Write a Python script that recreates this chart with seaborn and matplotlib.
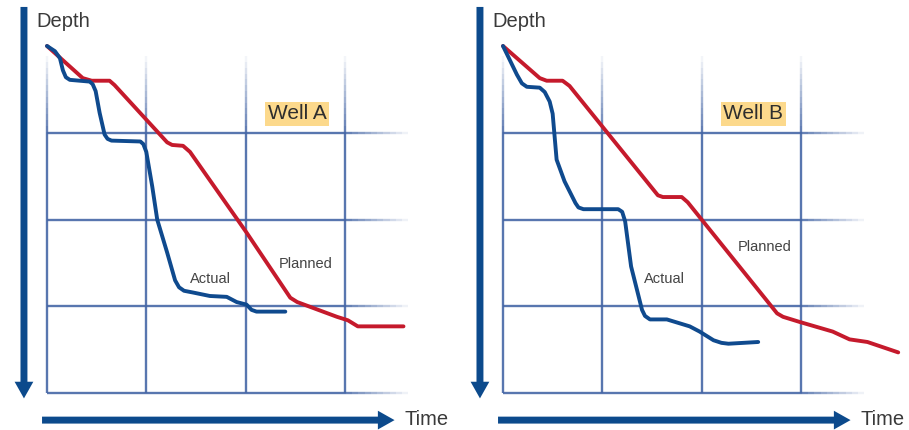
import seaborn as sns
import matplotlib.pyplot as plt
import numpy as np
import pandas as pd
from matplotlib.collections import LineCollection

# values: time in grid cells, depth in grid cells (down)
a_actual_t = [0.0, 0.08, 0.13, 0.16, 0.19, 0.23, 0.43, 0.46, 0.49, 0.53, 0.58, 0.61, 0.65, 0.94, 0.97,
              1.00, 1.06, 1.11, 1.21, 1.29, 1.33, 1.38, 1.47, 1.64, 1.81, 1.91, 2.01, 2.06, 2.11, 2.40]
a_actual_d = [0.0, 0.06, 0.14, 0.28, 0.36, 0.39, 0.41, 0.44, 0.52, 0.77, 1.02, 1.07, 1.09, 1.10, 1.13,
              1.22, 1.62, 2.00, 2.38, 2.70, 2.78, 2.82, 2.84, 2.88, 2.89, 2.95, 2.98, 3.04, 3.06, 3.06]
a_plan_t = [0.0, 0.36, 0.45, 0.63, 0.68, 1.21, 1.26, 1.37, 1.44, 2.01, 2.45, 2.52, 2.92, 3.03, 3.13, 3.59]
a_plan_d = [0.0, 0.37, 0.40, 0.40, 0.45, 1.11, 1.14, 1.15, 1.22, 2.15, 2.90, 2.95, 3.12, 3.16, 3.23, 3.23]

b_actual_t = [0.0, 0.14, 0.19, 0.24, 0.37, 0.42, 0.47, 0.50, 0.54, 0.62, 0.73, 0.76, 0.81, 1.16, 1.20,
              1.23, 1.29, 1.40, 1.43, 1.48, 1.65, 1.88, 1.98, 2.12, 2.20, 2.27, 2.57]
b_actual_d = [0.0, 0.33, 0.43, 0.47, 0.48, 0.53, 0.64, 0.78, 1.31, 1.56, 1.81, 1.86, 1.88, 1.88, 1.91,
              2.02, 2.54, 3.04, 3.11, 3.15, 3.15, 3.23, 3.29, 3.39, 3.42, 3.43, 3.41]
b_plan_t = [0.0, 0.37, 0.44, 0.60, 0.67, 1.56, 1.61, 1.80, 1.86, 2.76, 2.82, 2.99, 3.32, 3.49, 3.67, 3.98]
b_plan_d = [0.0, 0.37, 0.40, 0.40, 0.46, 1.72, 1.74, 1.74, 1.80, 3.08, 3.12, 3.18, 3.29, 3.38, 3.41, 3.53]

wells = ["Well A", "Well B"]
grid_t = [0, 1, 2, 3]
grid_d = [1, 2, 3, 4]

BLUE = "#0f4a8e"
RED = "#c51a2c"
GRID = "#4667a6"
ARROW = "#0c4a8c"

sns.set_theme(style="white")
plt.rcParams['font.family'] = ['Liberation Sans', 'DejaVu Sans']

fig = plt.figure(figsize=(9.09, 4.30), dpi=100)


def fade_line(ax, x0, x1, y0, y1, solid_frac):
    # line that is solid for a part then fades out to the end
    n = 60
    xs = np.linspace(x0, x1, n)
    ys = np.linspace(y0, y1, n)
    segs = [[(xs[i], ys[i]), (xs[i + 1], ys[i + 1])] for i in range(n - 1)]
    f = np.linspace(0, 1, n - 1)
    alpha = np.where(f < solid_frac, 0.9, 0.9 * (1 - (f - solid_frac) / (1 - solid_frac)))
    cols = [(*plt.matplotlib.colors.to_rgb(GRID), a) for a in alpha]
    ax.add_collection(LineCollection(segs, colors=cols, linewidths=1.7, capstyle="butt", zorder=1))


def draw_well(ax, actual_t, actual_d, plan_t, plan_d, name, label_pos):
    # grid: horizontals fade to the right, verticals fade to the top
    for d in grid_d:
        fade_line(ax, 0, 3.7, d, d, 3.0 / 3.7)
    for t in grid_t:
        fade_line(ax, t, t, 4.0, 0.05, 3.0 / 3.95)

    plan = pd.DataFrame({"t": plan_t, "d": plan_d})
    act = pd.DataFrame({"t": actual_t, "d": actual_d})
    sns.lineplot(data=plan, x="t", y="d", sort=False, estimator=None, color=RED, lw=2.8,
                 solid_joinstyle="round", solid_capstyle="round", ax=ax, zorder=3)
    sns.lineplot(data=act, x="t", y="d", sort=False, estimator=None, color=BLUE, lw=2.8,
                 solid_joinstyle="round", solid_capstyle="round", ax=ax, zorder=4)

    arrow = "simple,head_length=1.2,head_width=1.35,tail_width=0.5"
    ax.annotate("", xy=(-0.232, 4.06), xytext=(-0.232, -0.45),
                arrowprops=dict(arrowstyle=arrow, mutation_scale=10, color=ARROW, lw=0,
                                shrinkA=0, shrinkB=0))
    ax.annotate("", xy=(3.50, 4.31), xytext=(-0.05, 4.31),
                arrowprops=dict(arrowstyle=arrow, mutation_scale=10, color=ARROW, lw=0,
                                shrinkA=0, shrinkB=0))

    ax.text(-0.11, -0.28, "Depth", fontsize=14.5, color="#3a3a3a", ha="left", va="center")
    ax.text(3.6, 4.30, "Time", fontsize=14.5, color="#3a3a3a", ha="left", va="center")
    ax.text(2.52, 0.78, name, fontsize=15, color="#2e2e2e", ha="center", va="center",
            bbox=dict(boxstyle="square,pad=0.12", fc="#fcd98c", ec="none"))
    ax.text(label_pos[0][0], label_pos[0][1], "Actual", fontsize=10.5, color="#444444",
            ha="center", va="center")
    ax.text(label_pos[1][0], label_pos[1][1], "Planned", fontsize=10.5, color="#444444",
            ha="center", va="center")

    ax.set_axis_off()


ax1 = fig.add_axes([0, 0, 455 / 909, 1])
ax1.set_xlim(-47 / 99.3, (455 - 47) / 99.3)
ax1.set_ylim((430 - 46) / 86.8, -46 / 86.8)
draw_well(ax1, a_actual_t, a_actual_d, a_plan_t, a_plan_d, wells[0],
          [(1.65, 2.69), (2.61, 2.51)])

ax2 = fig.add_axes([455 / 909, 0, 454 / 909, 1])
ax2.set_xlim(-48 / 99.3, (909 - 503) / 99.3)
ax2.set_ylim((430 - 46) / 86.8, -46 / 86.8)
draw_well(ax2, b_actual_t, b_actual_d, b_plan_t, b_plan_d, wells[1],
          [(1.63, 2.69), (2.64, 2.32)])

fig.savefig("out.png", dpi=100)
